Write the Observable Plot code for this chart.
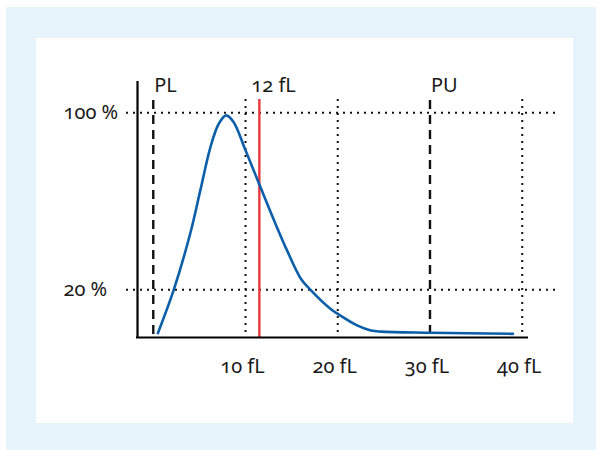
<!DOCTYPE html>
<html>
<head>
<meta charset="utf-8">
<script src="https://cdn.jsdelivr.net/npm/d3@7"></script>
<script src="https://cdn.jsdelivr.net/npm/@observablehq/plot@0.6"></script>
<style>
  html, body { margin: 0; padding: 0; background: #ffffff; }
  #wrap { position: relative; width: 596px; height: 450px; overflow: hidden; }
  #outer { position: absolute; left: 6px; top: 7px; width: 590px; height: 443px; background: #e8f4fc; }
  #inner { position: absolute; left: 36px; top: 38px; width: 537px; height: 385px; background: #ffffff; }
  #chart { position: absolute; left: 0; top: 0; }
  #chart svg text { font-variant-numeric: oldstyle-nums; font-feature-settings: "onum" 1; }
</style>
</head>
<body>
<div id="wrap"><div id="outer"></div><div id="inner"></div><div id="chart"></div></div>
<script>
// Volume distribution curve (fL vs % of maximum)
const curveVolume = [0.5, 2.2, 4.0, 5.1, 6.2, 7.1, 7.9, 8.7, 10.0, 11.55, 13.1, 14.5, 16.0, 17.1, 19.2, 20.0, 22.1, 23.6, 24.7, 30.1, 39.0];
const curvePercent = [0.4, 19.7, 45.3, 64.9, 84.5, 95.0, 98.8, 95.8, 83.0, 67.1, 51.3, 37.8, 25.0, 19.7, 11.4, 9.1, 3.9, 1.6, 1.1, 0.6, 0.1];

// Axis ticks
const xTicks = [10, 20, 30, 40];
const xTickLabels = ["10 fL", "20 fL", "30 fL", "40 fL"];
const yTicks = [20, 100];
const yTickLabels = ["20 %", "100 %"];

// Dotted vertical grid lines (30 fL is the PU threshold line)
const xGrid = [10, 20, 40];

// Thresholds (dashed)
const thresholdX = [0, 30];
const thresholdLabels = ["PL", "PU"];

// Reference line (red)
const refX = [11.5];
const refLabels = ["12 fL"];

const xDomain = [-1.71, 40.68];
const yDomain = [-1.56, 114.1];

const curve = curveVolume.map((v, i) => ({x: v, y: curvePercent[i]}));
const xt = xTicks.map((v, i) => ({x: v, label: xTickLabels[i]}));
const yt = yTicks.map((v, i) => ({y: v, label: yTickLabels[i]}));
const th = thresholdX.map((v, i) => ({x: v, label: thresholdLabels[i]}));
const rf = refX.map((v, i) => ({x: v, label: refLabels[i]}));

const dotted = "2,5";

const chart = Plot.plot({
  width: 596,
  height: 450,
  marginLeft: 137,
  marginRight: 68,
  marginTop: 81,
  marginBottom: 113,
  x: {domain: xDomain, axis: null},
  y: {domain: yDomain, axis: null},
  style: {background: "transparent", fontFamily: "'Noto Sans', sans-serif", fontSize: "20px", color: "#1a1a1a"},
  marks: [
    Plot.ruleY(yTicks, {stroke: "#111", strokeWidth: 2, strokeDasharray: dotted, insetLeft: -11, insetRight: -28}),
    Plot.ruleX(xGrid, {stroke: "#111", strokeWidth: 2, strokeDasharray: dotted, insetTop: 18}),
    Plot.ruleX(th, {x: "x", stroke: "#111", strokeWidth: 2.4, strokeDasharray: "9,6", insetTop: 19}),
    Plot.ruleX(rf, {x: "x", stroke: "#e8383d", strokeWidth: 2.4, insetTop: 18}),
    Plot.line(curve, {x: "x", y: "y", stroke: "#0b5ea8", strokeWidth: 2.6, curve: "catmull-rom"}),
    Plot.ruleX([xDomain[0]], {stroke: "#000", strokeWidth: 2.2}),
    Plot.ruleY([yDomain[0]], {stroke: "#000", strokeWidth: 2.2, insetLeft: -1}),
    Plot.text(xt, {x: "x", text: "label", frameAnchor: "bottom", lineAnchor: "bottom", dy: 35, dx: -3, fill: "#1a1a1a"}),
    Plot.text(yt, {y: "y", text: "label", frameAnchor: "left", textAnchor: "start", lineAnchor: "middle", dx: -74, fill: "#1a1a1a"}),
    Plot.text(th, {x: "x", text: "label", frameAnchor: "top", textAnchor: "start", lineAnchor: "bottom", dy: 10.5, dx: 1, fill: "#1a1a1a"}),
    Plot.text(rf, {x: "x", text: "label", frameAnchor: "top", textAnchor: "start", lineAnchor: "bottom", dy: 10.5, dx: -8, fill: "#1a1a1a"})
  ]
});
document.getElementById("chart").appendChild(chart);
</script>
</body>
</html>
